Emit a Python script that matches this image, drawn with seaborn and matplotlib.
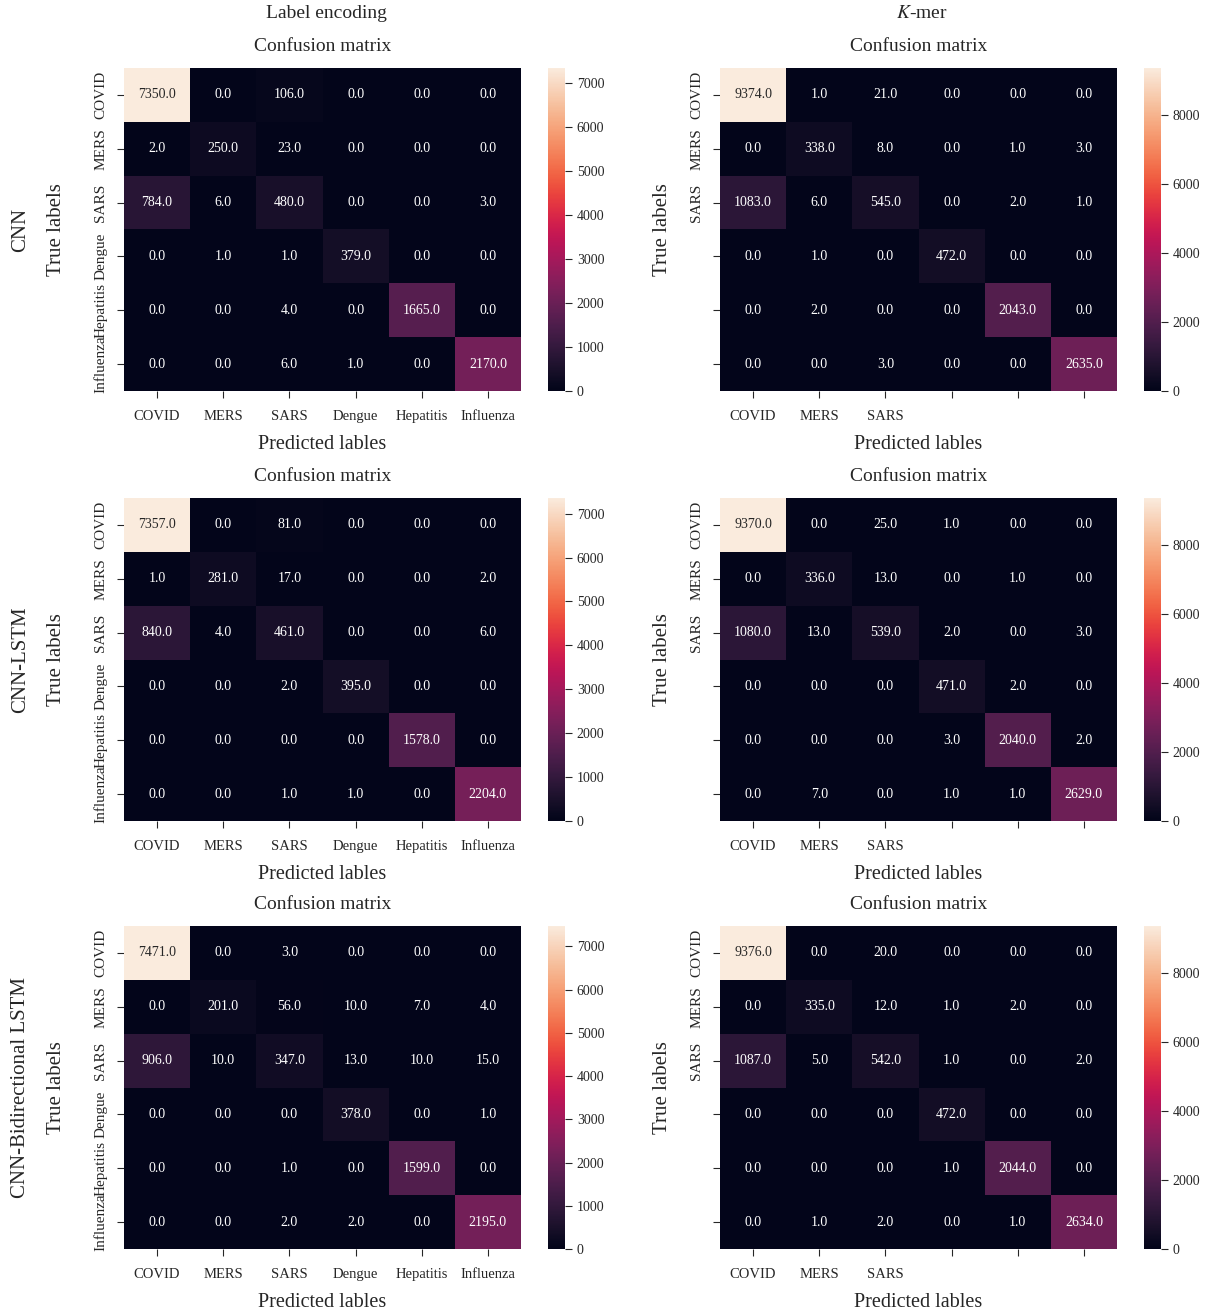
import numpy as np
import matplotlib
matplotlib.use("Agg")
import matplotlib.pyplot as plt
import seaborn as sns

sns.set_style("ticks")
plt.rcParams["font.family"] = ["Liberation Serif", "DejaVu Serif"]
plt.rcParams["mathtext.fontset"] = "stix"
plt.rcParams["xtick.major.size"] = 5
plt.rcParams["ytick.major.size"] = 5

# class names
classes = ["COVID", "MERS", "SARS", "Dengue", "Hepatitis", "Influenza"]
kmer_labels = ["COVID", "MERS", "SARS", "", "", ""]

models = ["CNN", "CNN-LSTM", "CNN-Bidirectional LSTM"]

# label encoding confusion matrices
le_cnn = [[7350, 0, 106, 0, 0, 0],
          [2, 250, 23, 0, 0, 0],
          [784, 6, 480, 0, 0, 3],
          [0, 1, 1, 379, 0, 0],
          [0, 0, 4, 0, 1665, 0],
          [0, 0, 6, 1, 0, 2170]]
le_cnn_lstm = [[7357, 0, 81, 0, 0, 0],
               [1, 281, 17, 0, 0, 2],
               [840, 4, 461, 0, 0, 6],
               [0, 0, 2, 395, 0, 0],
               [0, 0, 0, 0, 1578, 0],
               [0, 0, 1, 1, 0, 2204]]
le_cnn_bilstm = [[7471, 0, 3, 0, 0, 0],
                 [0, 201, 56, 10, 7, 4],
                 [906, 10, 347, 13, 10, 15],
                 [0, 0, 0, 378, 0, 1],
                 [0, 0, 1, 0, 1599, 0],
                 [0, 0, 2, 2, 0, 2195]]

# k-mer confusion matrices
km_cnn = [[9374, 1, 21, 0, 0, 0],
          [0, 338, 8, 0, 1, 3],
          [1083, 6, 545, 0, 2, 1],
          [0, 1, 0, 472, 0, 0],
          [0, 2, 0, 0, 2043, 0],
          [0, 0, 3, 0, 0, 2635]]
km_cnn_lstm = [[9370, 0, 25, 1, 0, 0],
               [0, 336, 13, 0, 1, 0],
               [1080, 13, 539, 2, 0, 3],
               [0, 0, 0, 471, 2, 0],
               [0, 0, 0, 3, 2040, 2],
               [0, 7, 0, 1, 1, 2629]]
km_cnn_bilstm = [[9376, 0, 20, 0, 0, 0],
                 [0, 335, 12, 1, 2, 0],
                 [1087, 5, 542, 1, 0, 2],
                 [0, 0, 0, 472, 0, 0],
                 [0, 0, 0, 1, 2044, 0],
                 [0, 1, 2, 0, 1, 2634]]

le_mats = [le_cnn, le_cnn_lstm, le_cnn_bilstm]
km_mats = [km_cnn, km_cnn_lstm, km_cnn_bilstm]

W, H = 1213, 1314
fig = plt.figure(figsize=(W / 100, H / 100), dpi=100)

row_tops = [68, 498, 926]
hm_h = 323
hm_w = 397


def box(x, top, w, h):
    return [x / W, 1 - (top + h) / H, w / W, h / H]


for r in range(3):
    top = row_tops[r]
    for c, (mats, labels, ax_x, cb_x) in enumerate(
        [(le_mats, classes, 124, 548), (km_mats, kmer_labels, 720, 1144)]
    ):
        ax = fig.add_axes(box(ax_x, top, hm_w, hm_h))
        cax = fig.add_axes(box(cb_x, top, 17, hm_h))
        sns.heatmap(np.array(mats[r], dtype=float), annot=True, fmt=".1f",
                    ax=ax, cbar_ax=cax, annot_kws={"size": 10})
        ax.set_xticklabels(labels, fontsize=10.5, rotation=0)
        ax.set_yticklabels(labels, fontsize=11, rotation=90, va="center")
        ax.tick_params(axis="x", pad=9)
        ax.tick_params(axis="y", pad=7)
        ax.set_xlabel("Predicted lables", fontsize=14.5)
        ax.xaxis.set_label_coords(0.5, -0.135)
        ax.set_ylabel("True labels", fontsize=15)
        ax.yaxis.set_label_coords(-0.145 if c == 0 else -0.12, 0.5)
        ax.set_title("Confusion matrix", fontsize=14, pad=12)
        cax.tick_params(labelsize=10)

    fig.text(21 / W, 1 - (top + hm_h / 2) / H, models[r], rotation=90,
             ha="center", va="center", fontsize=15)

fig.text(326 / W, 1 - 14 / H, "Label encoding", ha="center", va="center", fontsize=14)
fig.text(922 / W, 1 - 14 / H, "$K$-mer", ha="center", va="center", fontsize=14)

plt.savefig("out.png", dpi=100)
